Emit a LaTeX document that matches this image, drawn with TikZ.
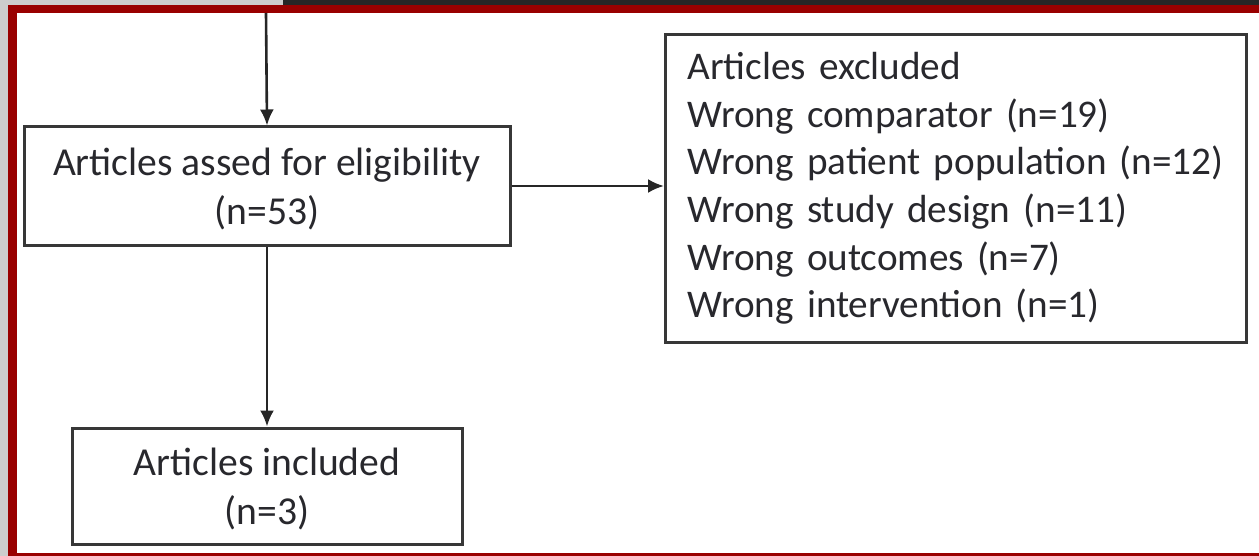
\documentclass[tikz,border=0pt]{standalone}
\usepackage{fontspec}
\setmainfont{Carlito}
\usetikzlibrary{arrows.meta, positioning, calc}
\definecolor{framered}{RGB}{153,0,0}
\definecolor{boxstroke}{RGB}{55,55,55}
\definecolor{textdark}{RGB}{40,40,45}
\definecolor{screendark}{RGB}{38,38,38}
\definecolor{screengray}{RGB}{205,205,205}
\tikzset{
  block/.style={
    rectangle,
    minimum width=#1, minimum height=59pt,
    align=center,
    draw=boxstroke, line width=1.5pt,
    text=textdark,
    font=\fontsize{19.8}{24.5}\selectfont
  },
  block/.default=243pt,
  listblock/.style={
    rectangle, anchor=north west,
    minimum height=154pt, text width=268.5pt,
    inner xsep=11pt, align=left,
    draw=boxstroke, line width=1.5pt,
    text=textdark,
    font=\fontsize{19.6}{23.8}\selectfont
  },
  arrow/.style={-{Latex[length=8pt,width=7pt]}, line width=1.3pt, color=black!85},
}
\begin{document}
\begin{tikzpicture}[x=0.5pt,y=-0.5pt]

%% ─── SCREEN EDGE + FRAME ─────────────────────────────────────
\useasboundingbox (0,0) rectangle (1259,556);
\fill[screengray] (0,0) rectangle (1259,556);
\fill[screendark] (283,0) rectangle (1259,6);
\fill[framered] (8,5) rectangle (1259,556);
\fill[white] (17,13) rectangle (1259,553);

%% ─── SCREENING ───────────────────────────────────────────────
\coordinate (top) at (266,13);

\node[block] (eligible) at (267,186)
  {\strut Articles assed for eligibility\\(n=53)};

\node[block=195pt, minimum height=58pt, below=90pt of eligible]
  (included) {\strut Articles included\\(n=3)};

%% ─── EXCLUSIONS ──────────────────────────────────────────────
\node[listblock] (excluded) at (664,33) {%
    Articles excluded\\
    Wrong comparator (n=19)\\
    Wrong patient population (n=12)\\
    Wrong study design (n=11)\\
    Wrong outcomes (n=7)\\
    Wrong intervention (n=1)
  };

%% ─── ARROWS ──────────────────────────────────────────────────
\draw[arrow] (top) -- (eligible.north);
\draw[arrow] (eligible.south) -- (included.north);
\draw[arrow] (eligible.east) -- (eligible.east -| excluded.west);

\end{tikzpicture}
\end{document}
